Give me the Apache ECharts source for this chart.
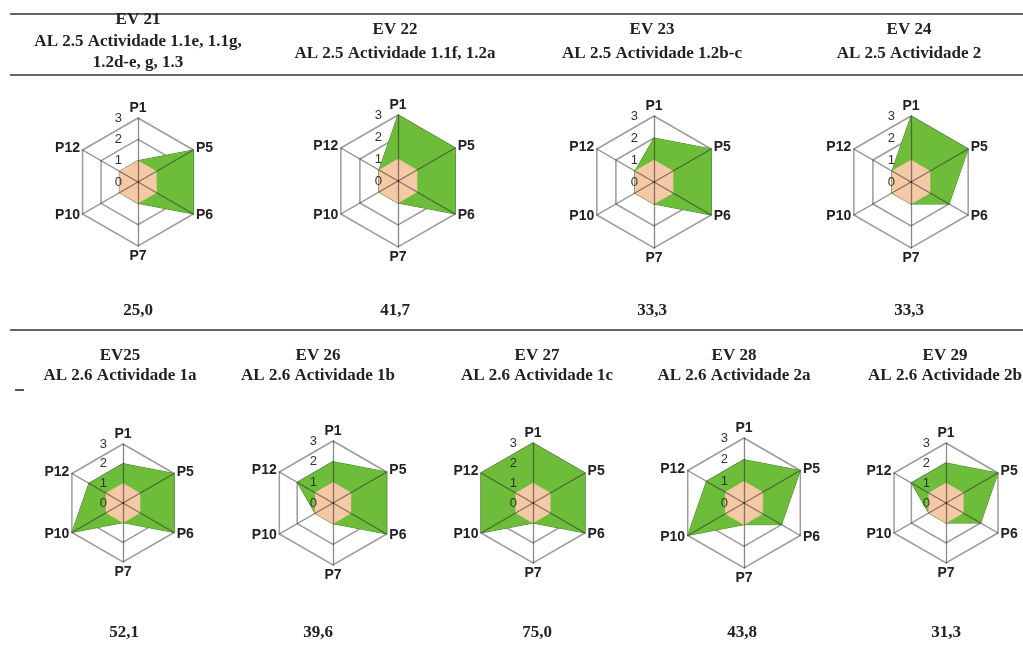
<!DOCTYPE html>
<html>
<head>
<meta charset="utf-8">
<script src="https://cdn.jsdelivr.net/npm/echarts@6/dist/echarts.min.js"></script>
<style>
  html, body { margin: 0; padding: 0; background: #fff; }
  #chart { width: 1023px; height: 647px; }
</style>
</head>
<body>
<div id="chart"></div>
<script>
// eixos do radar, em sentido horário a partir do topo
const axes = ['P1', 'P5', 'P6', 'P7', 'P10', 'P12'];
const tickLabels = ['0', '1', '2', '3'];

// cabeçalhos e pontuações
const headers = [
  'EV 21\nAL 2.5 Actividade 1.1e, 1.1g,\n1.2d-e, g, 1.3',
  'EV 22\nAL 2.5 Actividade 1.1f, 1.2a',
  'EV 23\nAL 2.5 Actividade 1.2b-c',
  'EV 24\nAL 2.5 Actividade 2',
  'EV25\nAL 2.6 Actividade 1a',
  'EV 26\nAL 2.6 Actividade 1b',
  'EV 27\nAL 2.6 Actividade 1c',
  'EV 28\nAL 2.6 Actividade 2a',
  'EV 29\nAL 2.6 Actividade 2b'
];
const scores = ['25,0', '41,7', '33,3', '33,3', '52,1', '39,6', '75,0', '43,8', '31,3'];

// valores por eixo (P1, P5, P6, P7, P10, P12)
const ev21 = [1, 3, 3, 1, 1, 1];
const ev22 = [3, 3, 3, 1, 1, 1];
const ev23 = [2, 3, 3, 1, 1, 1];
const ev24 = [3, 3, 2, 1, 1, 1];
const ev25 = [2, 3, 3, 1, 3, 2];
const ev26 = [2, 3, 3, 1, 1, 2];
const ev27 = [3, 3, 3, 1, 3, 3];
const ev28 = [2, 3, 2, 1, 3, 2];
const ev29 = [2, 3, 2, 1, 1, 2];
const baseline = [1, 1, 1, 1, 1, 1];
const allValues = [ev21, ev22, ev23, ev24, ev25, ev26, ev27, ev28, ev29];

// posição de cada painel
const layout = [
  { cx: 138, cy: 182, r: 64, hy: 9, lh: 21.5, sy: 302 },
  { cx: 398, cy: 181, r: 66, hy: 18, lh: 23.5, sy: 302 },
  { cx: 654, cy: 182, r: 66, hy: 18, lh: 23.5, sy: 302 },
  { cx: 911, cy: 182, r: 66, hy: 18, lh: 23.5, sy: 302 },
  { cx: 123, cy: 503, r: 59, hy: 345, lh: 20.5, sy: 624 },
  { cx: 333, cy: 503, r: 62, hy: 345, lh: 20.5, sy: 624 },
  { cx: 533, cy: 503, r: 60, hy: 345, lh: 20.5, sy: 624 },
  { cx: 744, cy: 503, r: 65, hy: 345, lh: 20.5, sy: 624 },
  { cx: 946, cy: 503, r: 60, hy: 345, lh: 20.5, sy: 624 }
];
const headerX = [138, 395, 652, 909, 120, 318, 537, 734, 945];
const scoreX = [138, 395, 652, 909, 124, 318, 537, 742, 946];

// o echarts desenha no sentido anti-horário: reordenar
const order = [0, 5, 4, 3, 2, 1];
const reorder = arr => order.map(i => arr[i]);

const radars = [];
const series = [];
const titles = [];

layout.forEach((p, i) => {
  const names = reorder(axes);
  // grelha (por baixo das áreas)
  radars.push({
    center: [p.cx, p.cy],
    radius: p.r,
    shape: 'polygon',
    splitNumber: 3,
    z: 0,
    indicator: names.map(n => ({ name: n, min: 0, max: 3 })),
    axisName: { show: false },
    axisLine: { show: false },
    splitLine: { lineStyle: { color: '#a09a9a', width: 1.5 } },
    splitArea: { show: false }
  });
  // eixos, nomes e escala (por cima das áreas)
  radars.push({
    center: [p.cx, p.cy],
    radius: p.r,
    shape: 'polygon',
    splitNumber: 3,
    z: 3,
    nameGap: 3,
    indicator: names.map((n, k) => ({
      name: n, min: 0, max: 3,
      axisLabel: k === 0 ? {
        show: true, color: '#333', fontSize: 13,
        fontFamily: 'Liberation Sans', margin: 16,
        formatter: v => tickLabels[v]
      } : { show: false }
    })),
    axisName: { color: '#222', fontSize: 14, fontWeight: 'bold', fontFamily: 'Liberation Sans' },
    axisLine: { lineStyle: { color: 'rgba(40,40,40,0.55)', width: 1.3 } },
    splitLine: { show: false },
    splitArea: { show: false }
  });
  series.push({
    type: 'radar',
    radarIndex: i * 2,
    symbol: 'none',
    silent: true,
    data: [
      {
        value: reorder(allValues[i]),
        areaStyle: { color: '#6dbd3b', opacity: 1 },
        lineStyle: { color: '#3f7d24', width: 1 }
      },
      {
        value: reorder(baseline),
        areaStyle: { color: '#f5c8a6', opacity: 1 },
        lineStyle: { color: '#f0bf98', width: 0.5 }
      }
    ]
  });
  titles.push({
    text: headers[i],
    left: headerX[i],
    top: p.hy,
    padding: 0,
    textAlign: 'center',
    textStyle: { fontFamily: 'Liberation Serif', fontWeight: 'bold', fontSize: 17, color: '#222', lineHeight: p.lh }
  });
  titles.push({
    text: scores[i],
    left: scoreX[i],
    top: p.sy,
    padding: 0,
    textAlign: 'center',
    textStyle: { fontFamily: 'Liberation Serif', fontWeight: 'bold', fontSize: 17, color: '#222', lineHeight: 18 }
  });
});

const rule = y => ({
  type: 'line',
  shape: { x1: 10, y1: y, x2: 1023, y2: y },
  style: { stroke: '#666', lineWidth: 2 }
});

const chart = echarts.init(document.getElementById('chart'));
chart.setOption({
  backgroundColor: '#fff',
  animation: false,
  title: titles,
  radar: radars,
  series: series,
  graphic: [
    rule(14), rule(75), rule(330),
    { type: 'line', shape: { x1: 15, y1: 390, x2: 24, y2: 390 }, style: { stroke: '#555', lineWidth: 2 } }
  ]
});
</script>
</body>
</html>
